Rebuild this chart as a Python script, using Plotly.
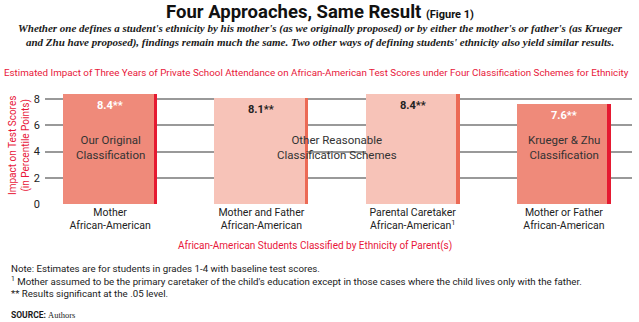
import plotly.graph_objects as go

# Chart data
categories = ["Mother<br>African-American",
              "Mother and Father<br>African-American",
              "Parental Caretaker<br>African-American<sup>1</sup>",
              "Mother or Father<br>African-American"]
impact = [8.4, 8.1, 8.4, 7.6]
value_labels = ["8.4**", "8.1**", "8.4**", "7.6**"]
y_ticks = [0, 2, 4, 6, 8]

DARK = "#EF8A7A"
LIGHT = "#F7C3B8"
RED = "#E51A31"
RED_TXT = "#E8173A"
EDGE_LIGHT = "#EC6A55"

fill_colors = [DARK, LIGHT, LIGHT, DARK]
edge_colors = [RED, EDGE_LIGHT, EDGE_LIGHT, RED]
label_colors = ["white", "#222222", "#222222", "white"]
x_pos = list(range(len(categories)))

W = 0.62
EDGE_W = 0.022

fig = go.Figure()
fig.add_trace(go.Bar(
    x=x_pos, y=impact, width=W, marker=dict(color=fill_colors, line=dict(width=0)),
    hoverinfo="skip", showlegend=False,
))
# thin darker strip along each bar's right side
fig.add_trace(go.Bar(
    x=x_pos, y=impact, width=EDGE_W, offset=W / 2 - EDGE_W,
    marker=dict(color=edge_colors, line=dict(width=0)),
    hoverinfo="skip", showlegend=False,
))

FONT = "Roboto, Arial, sans-serif"
SERIF = "Liberation Serif, serif"

# value labels near the bar tops
for xi, v, t, c in zip(x_pos, impact, value_labels, label_colors):
    fig.add_annotation(x=xi, y=v, yref="y", xref="x", text="<b>%s</b>" % t,
                       showarrow=False, yanchor="top", yshift=-3,
                       font=dict(family=FONT, size=11, color=c))

# group labels inside the bars
group_font = dict(family=FONT, size=11.5, color="#333333")
fig.add_annotation(x=0, y=4.3, text="Our Original<br>Classification", showarrow=False,
                   font=group_font)
fig.add_annotation(x=1.5, y=4.3, text="Other Reasonable<br>Classification Schemes",
                   showarrow=False, font=group_font)
fig.add_annotation(x=3, y=4.3, text="Krueger &amp; Zhu<br>Classification", showarrow=False,
                   font=group_font)

# headings
fig.add_annotation(xref="paper", yref="paper", x=(320 - 45) / 587, y=1 + (88 - 12) / 116,
                   text="<b>Four Approaches, Same Result</b> <b><span style='font-size:11px'>(Figure 1)</span></b>",
                   showarrow=False, xanchor="center", yanchor="middle",
                   font=dict(family=FONT, size=18.5, color="#111111"))
fig.add_annotation(xref="paper", yref="paper", x=(320 - 45) / 587, y=1 + (88 - 35) / 116,
                   text="<b><i>Whether one defines a student's ethnicity by his mother's (as we originally proposed) or by either the mother's or father's (as Krueger<br>and Zhu have proposed), findings remain much the same. Two other ways of defining students' ethnicity also yield similar results.</i></b>",
                   showarrow=False, xanchor="center", yanchor="middle", align="center",
                   font=dict(family=SERIF, size=11, color="#1a1a1a"))
fig.add_annotation(xref="paper", yref="paper", x=(316 - 45) / 587, y=1 + (88 - 72) / 116,
                   text="Estimated Impact of Three Years of Private School Attendance on African-American Test Scores under Four Classification Schemes for Ethnicity",
                   showarrow=False, xanchor="center", yanchor="middle",
                   font=dict(family=FONT, size=9.8, color=RED_TXT))

# axis titles
fig.add_annotation(xref="paper", yref="paper", x=(315 - 45) / 587, y=-(246 - 204) / 116,
                   text="African-American Students Classified by Ethnicity of Parent(s)",
                   showarrow=False, xanchor="center", yanchor="middle",
                   font=dict(family=FONT, size=10, color=RED_TXT))
fig.add_annotation(xref="paper", yref="paper", x=-(45 - 19) / 587, y=(204 - 146) / 116,
                   text="Impact on Test Scores<br>(in Percentile Points)", textangle=-90,
                   showarrow=False, xanchor="center", yanchor="middle",
                   font=dict(family=FONT, size=10, color=RED_TXT))

# notes
notes = ("Note: Estimates are for students in grades 1-4 with baseline test scores.<br>"
         "<sup>1</sup> Mother assumed to be the primary caretaker of the child's education except in those cases where the child lives only with the father.<br>"
         "** Results significant at the .05 level.")
fig.add_annotation(xref="paper", yref="paper", x=-(45 - 9) / 587, y=-(261 - 204) / 116,
                   text=notes, showarrow=False, xanchor="left", yanchor="top", align="left",
                   font=dict(family=FONT, size=9.7, color="#1a1a1a"))
fig.add_annotation(xref="paper", yref="paper", x=-(45 - 9) / 587, y=-(315 - 204) / 116,
                   text="<b>SOURCE:</b> <span style='font-family:Liberation Serif'>Authors</span>",
                   showarrow=False, xanchor="left", yanchor="middle",
                   font=dict(family=FONT, size=8.5, color="#1a1a1a"))

fig.update_layout(
    width=639, height=322,
    margin=dict(l=45, r=7, t=88, b=118),
    paper_bgcolor="white", plot_bgcolor="white",
    barmode="overlay", bargap=0,
    xaxis=dict(range=[-0.43, 3.45], tickvals=x_pos, ticktext=categories,
               showgrid=False, zeroline=False, showline=False, ticks="",
               tickfont=dict(family=FONT, size=10.5, color="#222222")),
    yaxis=dict(range=[0, 8.85], tickvals=y_ticks, showgrid=True, gridcolor="#999999",
               gridwidth=1.5, zeroline=False, showline=False, ticks="",
               ticklabelstandoff=4,
               tickfont=dict(family=FONT, size=11, color="#222222")),
)

fig.write_html("out.html")
